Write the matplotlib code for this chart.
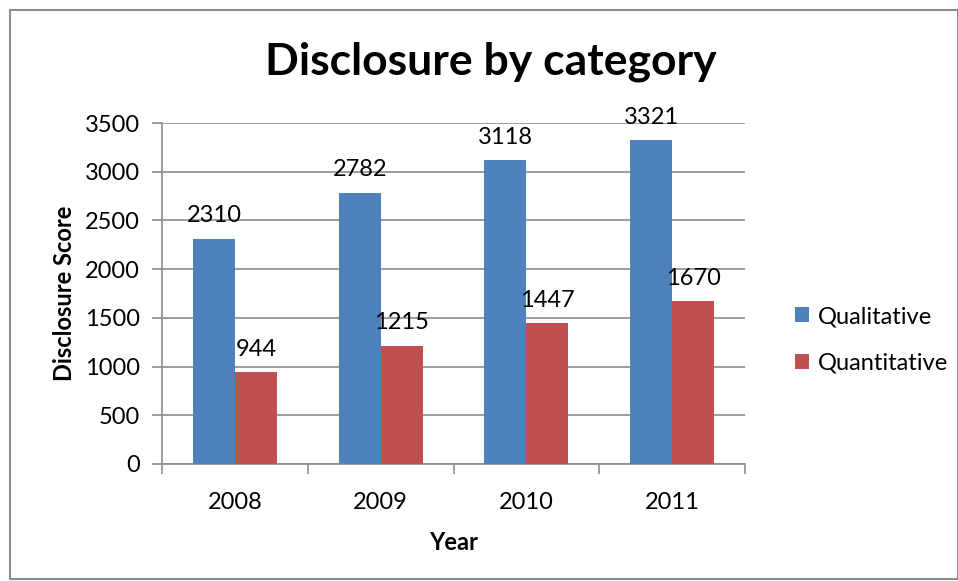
import matplotlib
matplotlib.use("Agg")
import matplotlib.pyplot as plt
import numpy as np
from matplotlib.patches import Rectangle

years = ["2008", "2009", "2010", "2011"]
qualitative = [2310, 2782, 3118, 3321]
quantitative = [944, 1215, 1447, 1670]
series_names = ["Qualitative", "Quantitative"]
colors = ["#4F81BD", "#C0504D"]

plt.rcParams['font.family'] = ['Lato', 'DejaVu Sans']
FS = 17

W, H = 958, 581
fig = plt.figure(figsize=(W/100, H/100), dpi=100)

# outer chart border
fig.patches.append(Rectangle((9.5/W, 1 - 578.5/H), (948)/W, (569)/H, transform=fig.transFigure,
                             fill=False, edgecolor="#8C8C8C", linewidth=1.5))

ax = fig.add_axes([162/W, 1 - 464/H, (745-162)/W, (464-123)/H])
x = np.arange(len(years))
bw = 0.288
b1 = ax.bar(x - bw/2, qualitative, bw, color=colors[0], label=series_names[0], zorder=3)
b2 = ax.bar(x + bw/2, quantitative, bw, color=colors[1], label=series_names[1], zorder=3)
for bars, vals in ((b1, qualitative), (b2, quantitative)):
    for r, v in zip(bars, vals):
        ax.annotate(str(v), (r.get_x() + r.get_width()/2, v), xytext=(0, 9),
                    textcoords="offset points", ha="center", va="bottom", fontsize=FS)

ax.set_xlim(-0.5, len(years) - 0.5)
ax.set_ylim(0, 3500)
ax.set_yticks(np.arange(0, 3501, 500))
ax.yaxis.grid(True, color="#8C8C8C", linewidth=1.2, zorder=0)
ax.set_axisbelow(True)
ax.set_xticks(x)
ax.set_xticklabels(years, fontsize=FS)
ax.tick_params(axis="x", length=0, pad=20)
ax.set_xticks(np.arange(-0.5, len(years)), minor=True)
ax.tick_params(axis="x", which="minor", length=7, color="#8C8C8C", width=1.2)
ax.tick_params(axis="y", length=7, color="#8C8C8C", width=1.2, labelsize=FS, pad=9)
for s in ["top", "right"]:
    ax.spines[s].set_visible(False)
for s in ["left", "bottom"]:
    ax.spines[s].set_color("#8C8C8C")
    ax.spines[s].set_linewidth(1.2)

ax.set_xlabel("Year", fontsize=FS, fontweight="bold", labelpad=13)
ax.set_ylabel("Disclosure Score", fontsize=FS, fontweight="bold", labelpad=6)

fig.text(491/W, 1 - 62/H, "Disclosure by category", ha="center", va="center",
         fontsize=32, fontweight="bold")

leg = ax.legend(loc="center left", bbox_to_anchor=(774/W, 1 - 340/H), bbox_transform=fig.transFigure,
                frameon=False, fontsize=FS, handlelength=0.6, handleheight=0.6,
                handletextpad=0.35, labelspacing=1.1)

fig.savefig("out.png", dpi=100)
